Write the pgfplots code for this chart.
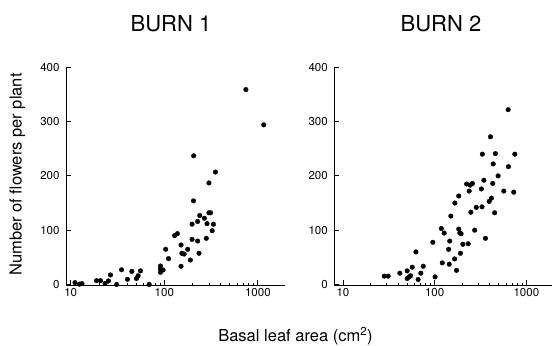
\documentclass[border=0pt]{standalone}
\usepackage{fontspec}
\setmainfont{TeX Gyre Heros}
\usepackage{pgfplots}
\usepackage{pgfplotstable}
\pgfplotsset{compat=1.18}
\pgfplotstableread{
x y
11.1 3.4
12.4 0.5
13.2 1.5
18.9 7
20.8 7
23.3 2
25.3 6.4
26.6 17.5
30.9 0
34.9 27
40.4 9.5
45 24
50.4 11
52.5 16
55.6 25
68.9 0
91 34
91 28.5
91 22.4
97 26.7
103.5 64.8
111 47.6
129 90
138 93.6
151 72.7
154 57.4
163 56
151 33.5
178 64.8
190 45
198 111
198 83
206 237
205 154
227 116
227 80
235 57.4
239 127
268 122
281 85
286 112
300 187
300 132
312 132
325 99
335 111
352 207
745 359
1156 294
}\burnone
\pgfplotstableread{
x y
28.2 15.3
31.1 15.3
41.7 20.8
50.1 25
50.1 11
52.8 14
54.5 16
56.9 31.8
62.4 60
66 9.2
70.6 20.8
75 33.6
95.5 77.6
101 14
118 103
121 39.7
127 94.7
142 64.7
144 37.3
146 80
150 126
166 150
165 47
173 26
183 163
183 102
188 95
191 57.4
194 93.4
203 74
223 185
232 75
238 172
244 183
248 133
258 186
273 100
284 142
323 176
328 143
331 240
344 192
358 85
393 153
406 272
416 159
430 186
435 222
451 132
459 241
492 200
567 172
632 322
637 217
728 170
748 240
}\burntwo
\begin{document}
\begin{tikzpicture}
\path[use as bounding box] (0pt,0pt) rectangle (553pt,345pt);
\begin{axis}[at={(66pt,60pt)}, anchor=south west, width=219pt, xmin=8.9, xmax=1950,
    xmode=log, scale only axis, height=217.7pt,
    axis x line=bottom, axis y line=left,
    axis line style={-, line width=0.8pt, black},
    tick align=inside, major tick length=5pt, minor tick length=2.5pt,
    tick style={black, line width=0.8pt},
    xtick={10,100,1000}, xticklabels={10,100,1000},
    ymin=-1, ymax=400, ytick={0,100,200,300,400},
    yticklabels={0,100,200,300,400},
    /pgf/number format/assume math mode=true,
    xticklabel style={font=\fontsize{11.5}{13}\selectfont},
    yticklabel style={font=\fontsize{11.5}{13}\selectfont, xshift=-3pt},
    clip=false]
\addplot[only marks, mark=*, mark size=2.3pt, black] table[x=x,y=y] {\burnone};
\end{axis}
\begin{axis}[at={(334.3pt,60pt)}, anchor=south west, width=217.2pt, xmin=8.04, xmax=1880,
    xmode=log, scale only axis, height=217.7pt,
    axis x line=bottom, axis y line=left,
    axis line style={-, line width=0.8pt, black},
    tick align=inside, major tick length=5pt, minor tick length=2.5pt,
    tick style={black, line width=0.8pt},
    xtick={10,100,1000}, xticklabels={10,100,1000},
    ymin=-1, ymax=400, ytick={0,100,200,300,400},
    yticklabels={0,100,200,300,400},
    /pgf/number format/assume math mode=true,
    xticklabel style={font=\fontsize{11.5}{13}\selectfont},
    yticklabel style={font=\fontsize{11.5}{13}\selectfont, xshift=-3pt},
    clip=false]
\addplot[only marks, mark=*, mark size=2.3pt, black] table[x=x,y=y] {\burntwo};
\end{axis}
\node[anchor=base, font=\fontsize{22}{26}\selectfont] at (171pt,313.3pt) {BURN 1};
\node[anchor=base, font=\fontsize{22}{26}\selectfont] at (441pt,313.3pt) {BURN 2};
\node[rotate=90, anchor=base, font=\fontsize{16.5}{19}\selectfont] at (21.5pt,170.5pt) {Number of flowers per plant};
\node[anchor=base, font=\fontsize{16.5}{19}\selectfont] at (295.5pt,3.5pt) {Basal leaf area (cm\textsuperscript{2})};
\end{tikzpicture}
\end{document}
